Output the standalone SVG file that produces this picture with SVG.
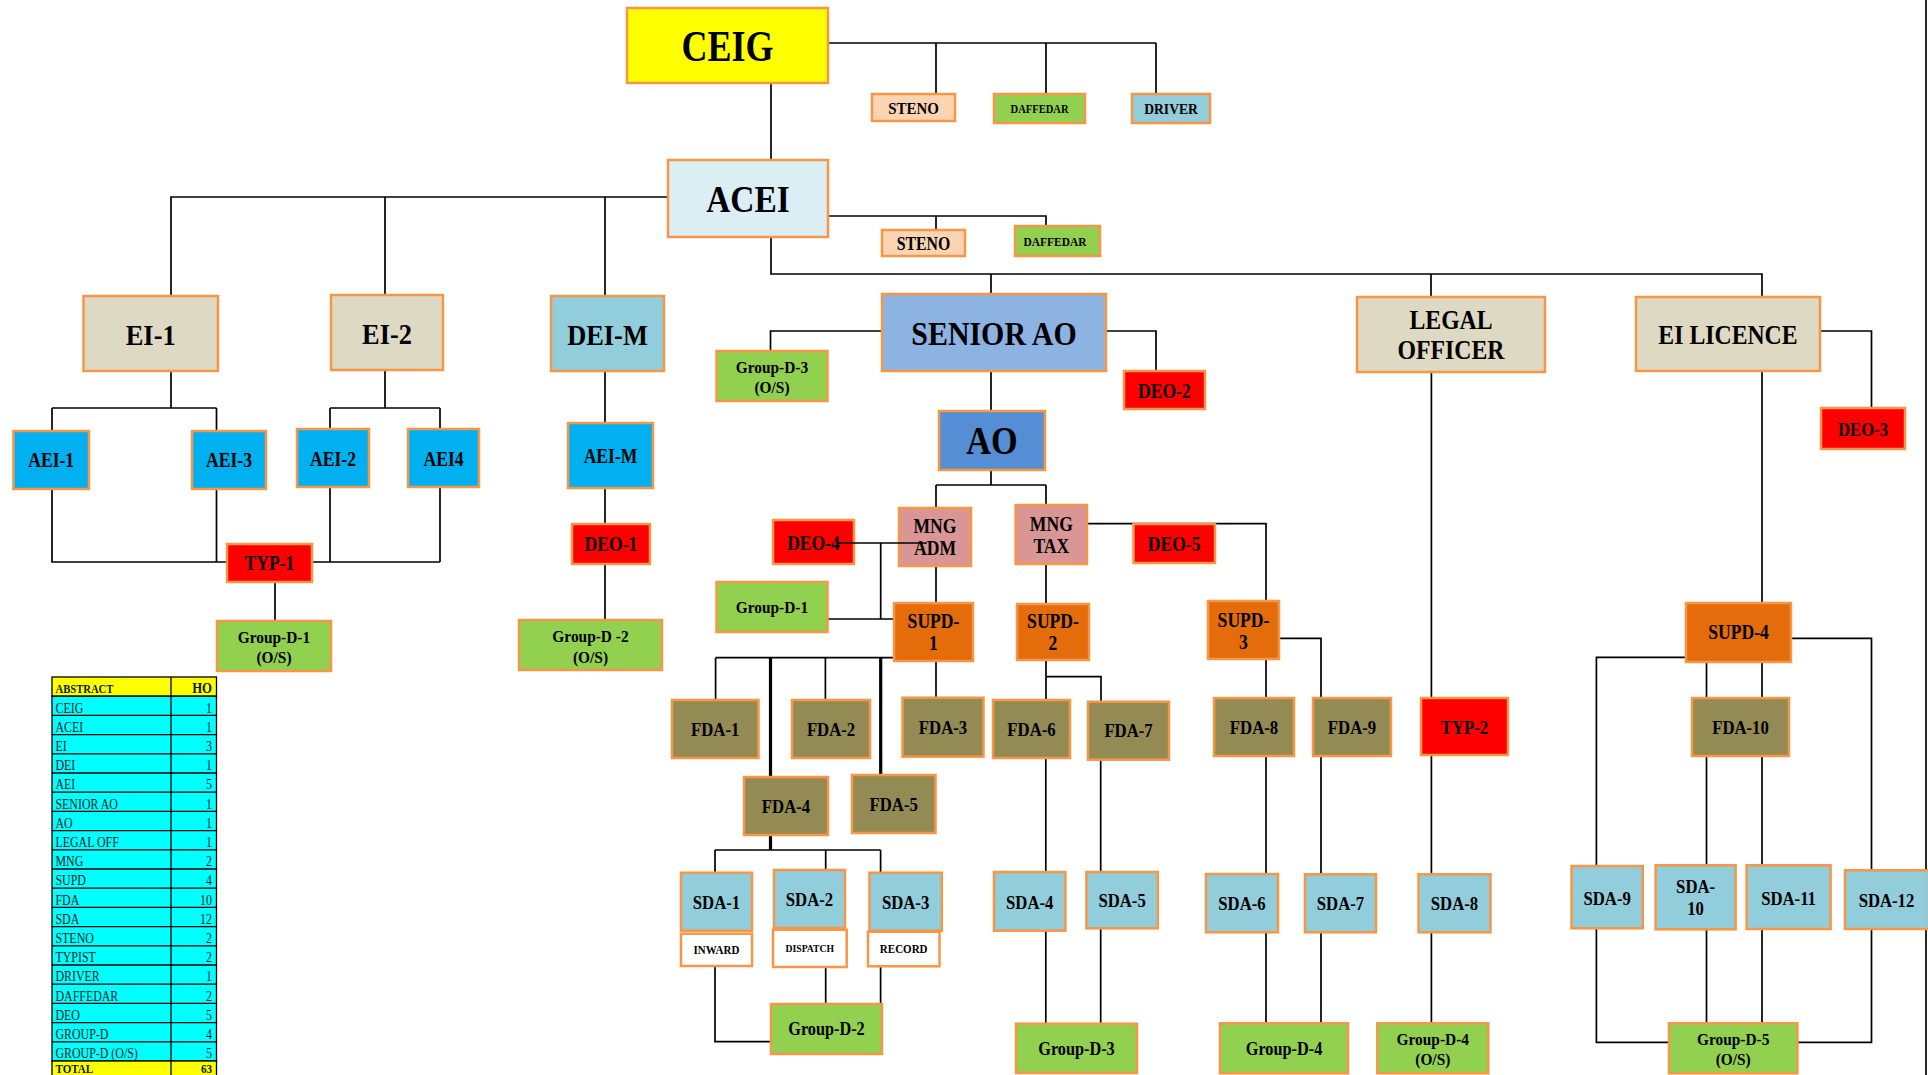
<svg xmlns="http://www.w3.org/2000/svg" width="1928" height="1075" viewBox="0 0 1928 1075">
<style>
.n{stroke:#F79646;stroke-width:2.5}
.c{stroke:#000;stroke-width:1.7;fill:none}
.k{stroke:#000;stroke-width:3.2;fill:none}
.t{font-family:"Liberation Serif",serif;font-weight:bold;text-anchor:middle;fill:#000;transform-box:fill-box;transform-origin:center;transform:scaleX(.88)}
.tl{font-family:"Liberation Serif",serif;font-size:14px;fill:#0a1a1a;transform-box:fill-box;transform-origin:left center;transform:scaleX(.85)}
.tr{font-family:"Liberation Serif",serif;font-size:14px;fill:#0a1a1a;text-anchor:end;transform-box:fill-box;transform-origin:right center;transform:scaleX(.85)}
.yel{fill:#FFFF00}.lb{fill:#DAEEF3}.tan{fill:#DDD9C3}.sky{fill:#92CDDC}.pch{fill:#FBD4B4}
.grn{fill:#92D050}.aei{fill:#00B0F0}.red{fill:#FF0000}.sao{fill:#8DB3E2}.ao{fill:#558ED5}
.mng{fill:#D99694}.sup{fill:#E46C0A}.fda{fill:#948A54}.wht{fill:#FFFFFF}
.tb{stroke:#000;stroke-width:1.3}
</style>
<rect x="0" y="0" width="1928" height="1075" fill="#fff"/>
<line x1="1926" y1="0" x2="1926" y2="1075" class="c"/>

<g id="connectors">
<path class="c" d="M771,83V160"/>
<path class="c" d="M828,43H1156M936,43V94M1046,43V94M1156,43V94"/>
<path class="c" d="M668,197H171V296M385,197V295M605,197V296"/>
<path class="c" d="M828,216H1046V226M936,216V230"/>
<path class="c" d="M771,237V274H1762V297M991,274V294M1431,274V297"/>
<path class="c" d="M171,371V408M52,408H216.5M52,408V431M216.5,408V431"/>
<path class="c" d="M385,370V408M330,408H440M330,408V429M440,408V429"/>
<path class="c" d="M52,489V562H227M216.5,489V562M312,562H440M330,487V562M440,487V562"/>
<path class="c" d="M275,582V621"/>
<path class="c" d="M605,371V423M605,488V524M605,564V620"/>
<path class="c" d="M882,331H770.5V351M1106,331H1156V371M991,371V411"/>
<path class="c" d="M991,470V485M936,485H1046M936,485V508M1046,485V505"/>
<path class="c" d="M936,566V603"/>
<path class="c" d="M880.7,543V619M827.7,619H894"/>
<path class="c" d="M1046,564V604M1087,523.7H1266V601"/>
<path class="c" d="M715.6,657.7H894M715.6,657.7V700M825.4,657.7V700M936,661V697.7"/>
<path class="k" d="M770.5,657.7V777M880.7,657.7V775"/>
<path class="c" d="M1046,660V700M1046,676.7H1101V701.7"/>
<path class="c" d="M1279,638.3H1321V698M1266,659V698"/>
<path class="k" d="M770.5,835V850"/>
<path class="c" d="M715,850H880.6M715,850V872.7M825.7,850V870M880.6,850V872.7"/>
<path class="c" d="M715,966V1041.7H771M825.7,967V1004M880.6,966V1004"/>
<path class="c" d="M1045.8,758V872M1045.8,930.7V1023.7M1100.7,759.7V872M1100.7,928.3V1023.7"/>
<path class="c" d="M1266,756V874M1266,932.3V1023.3M1321,756.7V874.3M1321,932.3V1023.3"/>
<path class="c" d="M1431.4,372V698M1431.4,755V874.3M1431.4,932.3V1023.3"/>
<path class="c" d="M1762,371V603M1820,331H1871.5V408"/>
<path class="c" d="M1791,638.3H1871.5V870.3M1686,657.3H1596.4V866M1706.5,661.7V697.7M1762,661.7V697.7M1706.5,756V865.3M1762,756V865.3"/>
<path class="c" d="M1596.4,928.3V1042.3H1669M1706.5,929.3V1023.3M1762,929V1023.3M1871.5,929V1042.3H1797.4"/>
</g>

<g id="ceig"><rect class="n yel" x="627" y="8" width="201" height="75"/><text class="t" x="727.5" y="61.5" font-size="45" style="transform:scaleX(.8)">CEIG</text></g>
<g id="steno1"><rect class="n pch" x="872" y="94" width="83" height="27"/><text class="t" x="913.5" y="114" font-size="17">STENO</text></g>
<g id="daffedar1"><rect class="n grn" x="994" y="94" width="91" height="29"/><text class="t" x="1039.5" y="113.3" font-size="12">DAFFEDAR</text></g>
<g id="driver"><rect class="n sky" x="1132" y="94" width="78" height="29"/><text class="t" x="1171" y="114" font-size="15.5">DRIVER</text></g>
<g id="acei"><rect class="n lb" x="668" y="160" width="160" height="77"/><text class="t" x="748" y="212" font-size="38">ACEI</text></g>
<g id="steno2"><rect class="n pch" x="882" y="230" width="83" height="26"/><text class="t" x="923.5" y="250" font-size="18">STENO</text></g>
<g id="daffedar2"><rect class="n grn" x="1015" y="226" width="85" height="30"/><text class="t" x="1055" y="245.7" font-size="13">DAFFEDAR</text></g>

<g id="ei1"><rect class="n tan" x="83.5" y="296" width="134.5" height="75"/><text class="t" x="150.7" y="345" font-size="30">EI-1</text></g>
<g id="ei2"><rect class="n tan" x="331" y="295" width="112" height="75"/><text class="t" x="387" y="344" font-size="30">EI-2</text></g>
<g id="deim"><rect class="n sky" x="551" y="296" width="113" height="75"/><text class="t" x="607.5" y="345" font-size="30">DEI-M</text></g>
<g id="seniorao"><rect class="n sao" x="882" y="294" width="224" height="77"/><text class="t" x="994" y="345" font-size="34">SENIOR AO</text></g>
<g id="legal"><rect class="n tan" x="1357" y="297" width="188" height="75"/><text class="t" x="1451" font-size="27"><tspan x="1451" y="329">LEGAL</tspan><tspan x="1451" y="359">OFFICER</tspan></text></g>
<g id="eilicence"><rect class="n tan" x="1636" y="297" width="184" height="74"/><text class="t" x="1728" y="344" font-size="27">EI LICENCE</text></g>
<g id="gd3os"><rect class="n grn" x="716.5" y="351" width="111" height="50"/><text class="t" font-size="17.5"><tspan x="772" y="373.5">Group-D-3</tspan><tspan x="772" y="393.5">(O/S)</tspan></text></g>
<g id="deo2"><rect class="n red" x="1124" y="371" width="81" height="38"/><text class="t" x="1164.5" y="398" font-size="20">DEO-2</text></g>
<g id="deo3"><rect class="n red" x="1821" y="408" width="84" height="41"/><text class="t" x="1863" y="436" font-size="19">DEO-3</text></g>

<g id="aei1"><rect class="n aei" x="13.4" y="431" width="75.6" height="58"/><text class="t" x="51.2" y="467" font-size="20">AEI-1</text></g>
<g id="aei3"><rect class="n aei" x="192" y="431" width="74" height="58"/><text class="t" x="229" y="467" font-size="20">AEI-3</text></g>
<g id="aei2"><rect class="n aei" x="297" y="429" width="72" height="58"/><text class="t" x="333" y="465.7" font-size="20">AEI-2</text></g>
<g id="aei4"><rect class="n aei" x="408" y="429" width="71" height="58"/><text class="t" x="443.5" y="465.7" font-size="20">AEI4</text></g>
<g id="aeim"><rect class="n aei" x="568" y="423" width="85" height="65"/><text class="t" x="610.5" y="463" font-size="20">AEI-M</text></g>
<g id="deo1"><rect class="n red" x="572" y="524" width="78" height="40"/><text class="t" x="611" y="551.5" font-size="20">DEO-1</text></g>
<g id="typ1"><rect class="n red" x="227" y="544" width="85" height="38"/><text class="t" x="269.5" y="570" font-size="20">TYP-1</text></g>
<g id="gd1os"><rect class="n grn" x="217" y="621" width="114" height="50"/><text class="t" font-size="17.5"><tspan x="274" y="643">Group-D-1</tspan><tspan x="274" y="663">(O/S)</tspan></text></g>
<g id="gd2os"><rect class="n grn" x="519" y="620" width="143" height="50"/><text class="t" font-size="17.5"><tspan x="590.5" y="642">Group-D -2</tspan><tspan x="590.5" y="663">(O/S)</tspan></text></g>

<g id="ao"><rect class="n ao" x="939" y="411" width="106" height="59"/><text class="t" x="992" y="454" font-size="39">AO</text></g>
<g id="mngadm"><rect class="n mng" x="899" y="508" width="72" height="58"/><text class="t" font-size="20"><tspan x="935" y="533">MNG</tspan><tspan x="935" y="555">ADM</tspan></text></g>
<g id="mngtax"><rect class="n mng" x="1015.6" y="505" width="71.4" height="59"/><text class="t" font-size="20"><tspan x="1051.3" y="531">MNG</tspan><tspan x="1051.3" y="553">TAX</tspan></text></g>
<g id="deo4"><rect class="n red" x="773" y="520" width="81" height="44"/><text class="t" x="813.5" y="550" font-size="20">DEO-4</text></g>
<g id="deo5"><rect class="n red" x="1133.5" y="524" width="81.5" height="39"/><text class="t" x="1174.2" y="551.5" font-size="20">DEO-5</text></g>
<g id="gd1"><rect class="n grn" x="716.5" y="582" width="111" height="50"/><text class="t" x="772" y="613" font-size="17.5">Group-D-1</text></g>
<g id="supd1"><rect class="n sup" x="894" y="603" width="79" height="58"/><text class="t" font-size="20"><tspan x="933.5" y="628">SUPD-</tspan><tspan x="933.5" y="650">1</tspan></text></g>
<g id="supd2"><rect class="n sup" x="1017" y="604" width="72" height="56"/><text class="t" font-size="20"><tspan x="1053" y="628">SUPD-</tspan><tspan x="1053" y="650">2</tspan></text></g>
<g id="supd3"><rect class="n sup" x="1208" y="601" width="71" height="58"/><text class="t" font-size="20"><tspan x="1243.5" y="627">SUPD-</tspan><tspan x="1243.5" y="649">3</tspan></text></g>
<g id="supd4"><rect class="n sup" x="1686" y="603" width="105" height="59"/><text class="t" x="1738.5" y="639" font-size="20">SUPD-4</text></g>
<path class="c" d="M838,543H927"/>

<g id="fda1"><rect class="n fda" x="672" y="700" width="86.5" height="58"/><text class="t" x="715.2" y="736" font-size="19">FDA-1</text></g>
<g id="fda2"><rect class="n fda" x="792" y="700" width="78" height="58"/><text class="t" x="831" y="736" font-size="19">FDA-2</text></g>
<g id="fda3"><rect class="n fda" x="902.5" y="697.7" width="81" height="59"/><text class="t" x="943" y="734" font-size="19">FDA-3</text></g>
<g id="fda6"><rect class="n fda" x="993" y="700" width="77" height="58"/><text class="t" x="1031.5" y="736" font-size="19">FDA-6</text></g>
<g id="fda7"><rect class="n fda" x="1088" y="701.7" width="81" height="58"/><text class="t" x="1128.5" y="737.5" font-size="19">FDA-7</text></g>
<g id="fda8"><rect class="n fda" x="1214" y="698" width="80" height="58"/><text class="t" x="1254" y="734.3" font-size="19">FDA-8</text></g>
<g id="fda9"><rect class="n fda" x="1313" y="698" width="78" height="58"/><text class="t" x="1352" y="734" font-size="19">FDA-9</text></g>
<g id="typ2"><rect class="n red" x="1421" y="698" width="87" height="57"/><text class="t" x="1464.5" y="734" font-size="19">TYP-2</text></g>
<g id="fda10"><rect class="n fda" x="1692" y="698" width="97" height="58"/><text class="t" x="1740.5" y="734" font-size="19">FDA-10</text></g>
<g id="fda4"><rect class="n fda" x="744" y="777" width="84" height="58"/><text class="t" x="786" y="813" font-size="19">FDA-4</text></g>
<g id="fda5"><rect class="n fda" x="852" y="775" width="83.5" height="58"/><text class="t" x="893.7" y="811.5" font-size="19">FDA-5</text></g>

<g id="sda1"><rect class="n sky" x="681" y="872.7" width="71" height="58"/><text class="t" x="716.5" y="909" font-size="19">SDA-1</text></g>
<g id="sda2"><rect class="n sky" x="774" y="870" width="71" height="58"/><text class="t" x="809.5" y="906.5" font-size="19">SDA-2</text></g>
<g id="sda3"><rect class="n sky" x="869.5" y="872.7" width="72.3" height="58"/><text class="t" x="905.6" y="909" font-size="19">SDA-3</text></g>
<g id="inward"><rect class="n wht" x="681" y="933.7" width="71" height="32.3"/><text class="t" x="716.5" y="954" font-size="12.5">INWARD</text></g>
<g id="dispatch"><rect class="n wht" x="773" y="929.7" width="73.7" height="37.3"/><text class="t" x="809.8" y="952" font-size="11">DISPATCH</text></g>
<g id="record"><rect class="n wht" x="868" y="931.7" width="71.5" height="34.6"/><text class="t" x="903.7" y="952.7" font-size="12.5">RECORD</text></g>
<g id="gd2"><rect class="n grn" x="771" y="1004" width="111" height="50"/><text class="t" x="826.5" y="1035.5" font-size="18.5">Group-D-2</text></g>
<g id="sda4"><rect class="n sky" x="994" y="872" width="71.4" height="58.7"/><text class="t" x="1029.7" y="909" font-size="19">SDA-4</text></g>
<g id="sda5"><rect class="n sky" x="1086.4" y="872" width="71.4" height="56.3"/><text class="t" x="1122.1" y="907.5" font-size="19">SDA-5</text></g>
<g id="gd3"><rect class="n grn" x="1016" y="1023.7" width="121" height="49.3"/><text class="t" x="1076.5" y="1055.5" font-size="18.5">Group-D-3</text></g>
<g id="sda6"><rect class="n sky" x="1206" y="874" width="72" height="58.3"/><text class="t" x="1242" y="910" font-size="19">SDA-6</text></g>
<g id="sda7"><rect class="n sky" x="1305" y="874.3" width="71" height="58"/><text class="t" x="1340.5" y="910" font-size="19">SDA-7</text></g>
<g id="gd4"><rect class="n grn" x="1220" y="1023.3" width="128" height="50"/><text class="t" x="1284" y="1055.5" font-size="18.5">Group-D-4</text></g>
<g id="sda8"><rect class="n sky" x="1418.5" y="874.3" width="72" height="58"/><text class="t" x="1454.5" y="910" font-size="19">SDA-8</text></g>
<g id="gd4os"><rect class="n grn" x="1377.3" y="1023.3" width="111" height="50"/><text class="t" font-size="17.5"><tspan x="1432.8" y="1045">Group-D-4</tspan><tspan x="1432.8" y="1065">(O/S)</tspan></text></g>
<g id="sda9"><rect class="n sky" x="1571.5" y="866" width="71.3" height="62.3"/><text class="t" x="1607.2" y="905" font-size="19">SDA-9</text></g>
<g id="sda10"><rect class="n sky" x="1655.6" y="865.3" width="80" height="64"/><text class="t" font-size="19"><tspan x="1695.6" y="893.3">SDA-</tspan><tspan x="1695.6" y="915">10</tspan></text></g>
<g id="sda11"><rect class="n sky" x="1746.6" y="865.3" width="84" height="63.7"/><text class="t" x="1788.6" y="905" font-size="19">SDA-11</text></g>
<g id="sda12"><rect class="n sky" x="1845" y="870.3" width="84" height="58.7"/><text class="t" x="1886.5" y="906.7" font-size="19">SDA-12</text></g>
<g id="gd5os"><rect class="n grn" x="1669" y="1023.3" width="128.4" height="50"/><text class="t" font-size="17.5"><tspan x="1733.2" y="1045">Group-D-5</tspan><tspan x="1733.2" y="1065">(O/S)</tspan></text></g>

<g id="abstract-table">
<rect class="tb" x="52" y="677" width="164.5" height="19.2" fill="#FFFF00"/>
<rect class="tb" x="52" y="696.2" width="164.5" height="364.8" fill="#00FFFF"/>
<rect class="tb" x="52" y="1061" width="164.5" height="20" fill="#FFFF00"/>
<path class="tb" fill="none" d="M171,677V1081M52,715.4H216.5M52,734.6H216.5M52,753.8H216.5M52,773H216.5M52,792.2H216.5M52,811.4H216.5M52,830.6H216.5M52,849.8H216.5M52,869H216.5M52,888.2H216.5M52,907.4H216.5M52,926.6H216.5M52,945.8H216.5M52,965H216.5M52,984.2H216.5M52,1003.4H216.5M52,1022.6H216.5M52,1041.8H216.5"/>
<text class="tl" x="55.5" y="693.3" style="font-size:12.5px;font-weight:bold">ABSTRACT</text>
<text class="tr" x="212" y="693.3" style="font-size:15px;font-weight:bold">HO</text>
<text class="tl" x="55.5" y="712.7">CEIG</text><text class="tr" x="212" y="712.7">1</text>
<text class="tl" x="55.5" y="731.9">ACEI</text><text class="tr" x="212" y="731.9">1</text>
<text class="tl" x="55.5" y="751.1">EI</text><text class="tr" x="212" y="751.1">3</text>
<text class="tl" x="55.5" y="770.3">DEI</text><text class="tr" x="212" y="770.3">1</text>
<text class="tl" x="55.5" y="789.5">AEI</text><text class="tr" x="212" y="789.5">5</text>
<text class="tl" x="55.5" y="808.7">SENIOR AO</text><text class="tr" x="212" y="808.7">1</text>
<text class="tl" x="55.5" y="827.9">AO</text><text class="tr" x="212" y="827.9">1</text>
<text class="tl" x="55.5" y="847.1">LEGAL OFF</text><text class="tr" x="212" y="847.1">1</text>
<text class="tl" x="55.5" y="866.3">MNG</text><text class="tr" x="212" y="866.3">2</text>
<text class="tl" x="55.5" y="885.5">SUPD</text><text class="tr" x="212" y="885.5">4</text>
<text class="tl" x="55.5" y="904.7">FDA</text><text class="tr" x="212" y="904.7">10</text>
<text class="tl" x="55.5" y="923.9">SDA</text><text class="tr" x="212" y="923.9">12</text>
<text class="tl" x="55.5" y="943.1">STENO</text><text class="tr" x="212" y="943.1">2</text>
<text class="tl" x="55.5" y="962.3">TYPIST</text><text class="tr" x="212" y="962.3">2</text>
<text class="tl" x="55.5" y="981.5">DRIVER</text><text class="tr" x="212" y="981.5">1</text>
<text class="tl" x="55.5" y="1000.7">DAFFEDAR</text><text class="tr" x="212" y="1000.7">2</text>
<text class="tl" x="55.5" y="1019.9">DEO</text><text class="tr" x="212" y="1019.9">5</text>
<text class="tl" x="55.5" y="1039.1">GROUP-D</text><text class="tr" x="212" y="1039.1">4</text>
<text class="tl" x="55.5" y="1058.3">GROUP-D (O/S)</text><text class="tr" x="212" y="1058.3">5</text>
<text class="tl" x="55.5" y="1073.5" style="font-size:13px;font-weight:bold">TOTAL</text><text class="tr" x="212" y="1073.5" style="font-size:13px;font-weight:bold">63</text>
</g>
</svg>
